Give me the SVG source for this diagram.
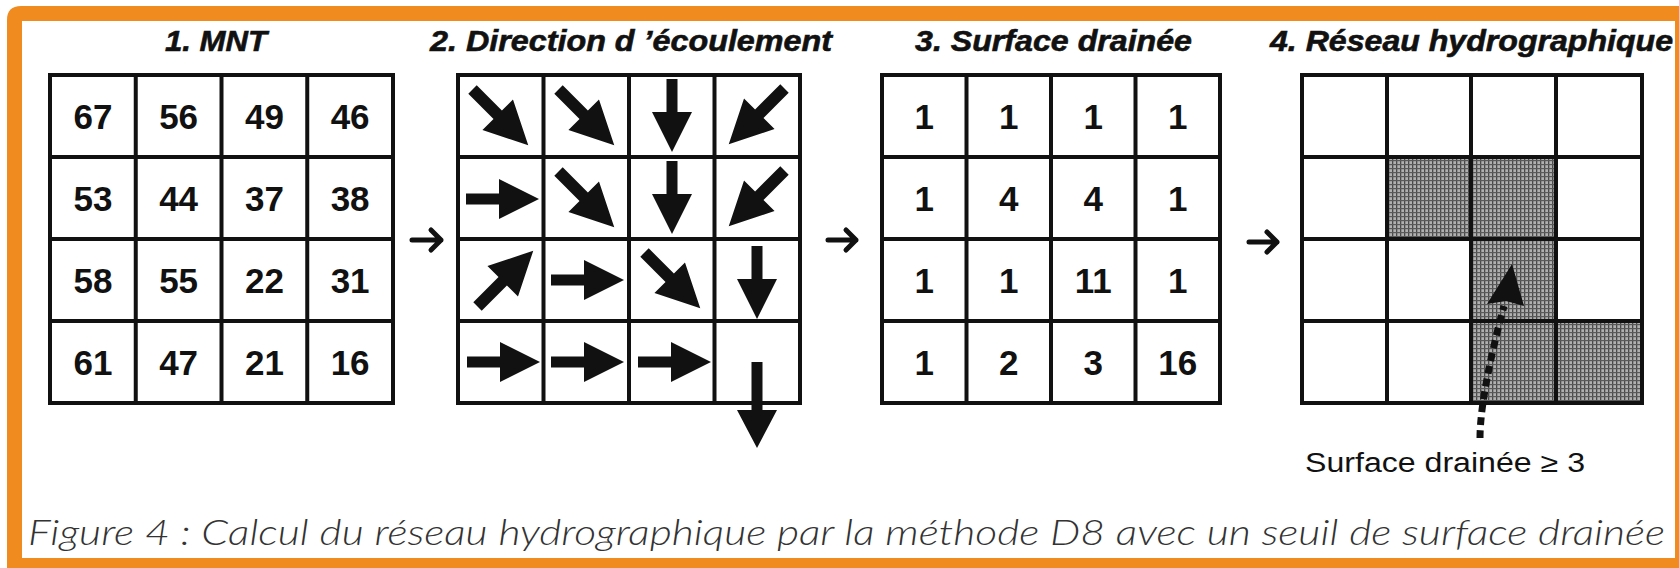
<svg xmlns="http://www.w3.org/2000/svg" xmlns:xlink="http://www.w3.org/1999/xlink" width="1679" height="568" viewBox="0 0 1679 568">
<style>
.grid{fill:none;stroke:#111;stroke-width:4}
.gl{stroke:#111;stroke-width:4}
.num{font-family:"Liberation Sans",Arial,sans-serif;font-weight:bold;font-size:35px;fill:#111;text-anchor:middle}
.title{font-family:"Liberation Sans",Arial,sans-serif;font-weight:bold;font-style:italic;font-size:29px;fill:#111;stroke:#111;stroke-width:0.6}
.conn{fill:none;stroke:#111;stroke-width:5;stroke-linecap:round;stroke-linejoin:round}
.dir{fill:#111}
</style>
<defs>
<path id="arr" d="M-36,-5.5 H-3 V-20 L37,0 L-3,20 V5.5 H-36 Z"/>
<pattern id="hatch" width="4" height="4" patternUnits="userSpaceOnUse">
<rect width="4" height="4" fill="#b0b0b0"/>
<rect x="0" y="0" width="1.3" height="4" fill="#4a4a4a"/>
<rect x="0" y="0" width="4" height="1.2" fill="#5a5a5a"/>
</pattern>
</defs>
<rect width="1679" height="568" fill="#fff"/>
<g id="frame">
<path d="M7,568 V20 Q7,6 21,6 H1679 V568 Z" fill="#EF8B1F"/>
<rect x="22" y="21" width="1653" height="537" fill="#fff"/>
</g>

<g id="mnt">
<text class="title" x="165" y="51" textLength="102" lengthAdjust="spacingAndGlyphs">1. MNT</text>
<rect class="grid" x="50" y="75" width="343" height="328"/>
<path class="gl" d="M135.75,75 V403 M221.5,75 V403 M307.25,75 V403 M50,157 H393 M50,239 H393 M50,321 H393"/>
<g class="num">
<text x="92.9" y="129">67</text><text x="178.6" y="129">56</text><text x="264.4" y="129">49</text><text x="350.1" y="129">46</text>
<text x="92.9" y="211">53</text><text x="178.6" y="211">44</text><text x="264.4" y="211">37</text><text x="350.1" y="211">38</text>
<text x="92.9" y="293">58</text><text x="178.6" y="293">55</text><text x="264.4" y="293">22</text><text x="350.1" y="293">31</text>
<text x="92.9" y="375">61</text><text x="178.6" y="375">47</text><text x="264.4" y="375">21</text><text x="350.1" y="375">16</text>
</g>
</g>

<g id="direction">
<text class="title" x="430" y="51" textLength="402" lengthAdjust="spacingAndGlyphs">2. Direction d ’écoulement</text>
<rect class="grid" x="458" y="75" width="342" height="328"/>
<path class="gl" d="M543.5,75 V403 M629,75 V403 M714.5,75 V403 M458,157 H800 M458,239 H800 M458,321 H800"/>
<g class="dir">
<use xlink:href="#arr" transform="translate(500,117) rotate(45) scale(1.08)"/>
<use xlink:href="#arr" transform="translate(586,117) rotate(45) scale(1.08)"/>
<use xlink:href="#arr" transform="translate(672,115) rotate(90)"/>
<use xlink:href="#arr" transform="translate(757,116) rotate(135) scale(1.08)"/>
<use xlink:href="#arr" transform="translate(502,199)"/>
<use xlink:href="#arr" transform="translate(586,199) rotate(45) scale(1.08)"/>
<use xlink:href="#arr" transform="translate(672,197) rotate(90)"/>
<use xlink:href="#arr" transform="translate(757,198) rotate(135) scale(1.08)"/>
<use xlink:href="#arr" transform="translate(505,279) rotate(-45) scale(1.08)"/>
<use xlink:href="#arr" transform="translate(587,280)"/>
<use xlink:href="#arr" transform="translate(672,280) rotate(45) scale(1.08)"/>
<use xlink:href="#arr" transform="translate(757,282) rotate(90)"/>
<use xlink:href="#arr" transform="translate(503,362)"/>
<use xlink:href="#arr" transform="translate(587,362)"/>
<use xlink:href="#arr" transform="translate(674,362)"/>
<path d="M751.5,362 H762.5 V410 H777 L757,448 L737,410 H751.5 Z"/>
</g>
</g>

<g id="surface">
<text class="title" x="915" y="51" textLength="277" lengthAdjust="spacingAndGlyphs">3. Surface drainée</text>
<rect class="grid" x="882" y="75" width="338" height="328"/>
<path class="gl" d="M966.5,75 V403 M1051,75 V403 M1135.5,75 V403 M882,157 H1220 M882,239 H1220 M882,321 H1220"/>
<g class="num">
<text x="924.3" y="129">1</text><text x="1008.8" y="129">1</text><text x="1093.3" y="129">1</text><text x="1177.8" y="129">1</text>
<text x="924.3" y="211">1</text><text x="1008.8" y="211">4</text><text x="1093.3" y="211">4</text><text x="1177.8" y="211">1</text>
<text x="924.3" y="293">1</text><text x="1008.8" y="293">1</text><text x="1093.3" y="293">11</text><text x="1177.8" y="293">1</text>
<text x="924.3" y="375">1</text><text x="1008.8" y="375">2</text><text x="1093.3" y="375">3</text><text x="1177.8" y="375">16</text>
</g>
</g>

<g id="reseau">
<text class="title" x="1270" y="51" textLength="403" lengthAdjust="spacingAndGlyphs">4. Réseau hydrographique</text>
<g fill="url(#hatch)">
<rect x="1387" y="157" width="84" height="82"/>
<rect x="1471" y="157" width="85" height="82"/>
<rect x="1471" y="239" width="85" height="82"/>
<rect x="1471" y="321" width="85" height="82"/>
<rect x="1556" y="321" width="86" height="82"/>
</g>
<rect class="grid" x="1302" y="75" width="340" height="328"/>
<path class="gl" d="M1387,75 V403 M1471,75 V403 M1556,75 V403 M1302,157 H1642 M1302,239 H1642 M1302,321 H1642"/>
<path d="M1480,438 C1480,405 1492,350 1504,306" fill="none" stroke="#111" stroke-width="7" stroke-dasharray="8 5"/>
<path d="M1512,264 L1524,306 L1506,301 L1487,304 Z" fill="#111"/>
<text x="1305" y="472" font-family="'Liberation Sans',Arial,sans-serif" font-size="27" fill="#111" textLength="280" lengthAdjust="spacingAndGlyphs">Surface drainée ≥ 3</text>
</g>

<g id="connectors" class="conn">
<path d="M412,240 H441 M431,230 L441,240 L431,250"/>
<path d="M828,240 H856 M846,230 L856,240 L846,250"/>
<path d="M1249,242 H1277 M1267,232 L1277,242 L1267,252"/>
</g>

<g id="caption">
<text x="28" y="545" font-family="Lato,'Open Sans',sans-serif" font-weight="300" font-style="italic" font-size="36" fill="#333" textLength="1637" lengthAdjust="spacingAndGlyphs">Figure 4 : Calcul du réseau hydrographique par la méthode D8 avec un seuil de surface drainée</text>
</g>
</svg>
